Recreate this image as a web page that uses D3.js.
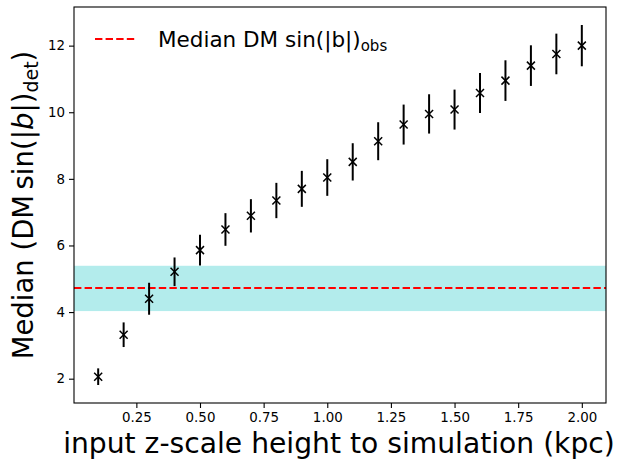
<!DOCTYPE html>
<html><head><meta charset="utf-8">
<script src="https://cdn.jsdelivr.net/npm/d3@7"></script>
<style>body{margin:0;background:#fff}svg{display:block}</style>
</head><body>
<script>
// ---- data ----
const zHeights = [0.1,0.2,0.3,0.4,0.5,0.6,0.7,0.8,0.9,1.0,1.1,1.2,1.3,1.4,1.5,1.6,1.7,1.8,1.9,2.0];
const medians  = [2.06,3.32,4.40,5.21,5.86,6.48,6.89,7.35,7.70,8.04,8.51,9.13,9.63,9.95,10.08,10.58,10.95,11.40,11.75,12.00];
const errors   = [0.25,0.37,0.48,0.43,0.46,0.49,0.50,0.53,0.54,0.55,0.56,0.57,0.60,0.59,0.60,0.60,0.61,0.61,0.61,0.62];
const obsMedian = 4.72;
const obsBand = [4.03, 5.39];
const xTicks = [0.25,0.50,0.75,1.00,1.25,1.50,1.75,2.00];
const yTicks = [2,4,6,8,10,12];
const xLabel = "input z-scale height to simulation (kpc)";
const legendLabel = "Median DM sin(|b|)";

const W = 617, H = 459;
const m = {left:74, right:606, top:7, bottom:403};
const font = "'DejaVu Sans', sans-serif";

const svg = d3.select("body").append("svg").attr("width", W).attr("height", H)
  .style("font-family", font);

const x = d3.scaleLinear().domain([0.005, 2.095]).range([m.left, m.right]);
const y = d3.scaleLinear().domain([1.27, 13.16]).range([m.bottom, m.top]);

// band
svg.append("rect")
  .attr("x", m.left).attr("width", m.right - m.left)
  .attr("y", y(obsBand[1])).attr("height", y(obsBand[0]) - y(obsBand[1]))
  .attr("fill", "#b3ecec");

// median line
svg.append("line")
  .attr("x1", m.left).attr("x2", m.right)
  .attr("y1", y(obsMedian)).attr("y2", y(obsMedian))
  .attr("stroke", "#ff0000").attr("stroke-width", 2)
  .attr("stroke-dasharray", "7.4,3.2");

// error bars
const pts = zHeights.map((z, i) => ({z, v: medians[i], e: errors[i]}));
svg.append("g").selectAll("line").data(pts).join("line")
  .attr("x1", d => x(d.z)).attr("x2", d => x(d.z))
  .attr("y1", d => y(d.v - d.e)).attr("y2", d => y(d.v + d.e))
  .attr("stroke", "#000").attr("stroke-width", 2);

// x markers
const s = 4;
svg.append("g").selectAll("path").data(pts).join("path")
  .attr("d", d => {
    const cx = x(d.z), cy = y(d.v);
    return `M${cx-s},${cy-s}L${cx+s},${cy+s}M${cx-s},${cy+s}L${cx+s},${cy-s}`;
  })
  .attr("stroke", "#000").attr("stroke-width", 1.5).attr("fill", "none");

// axes
const xAxis = d3.axisBottom(x).tickValues(xTicks).tickFormat(d3.format(".2f")).tickSize(5).tickPadding(4);
const yAxis = d3.axisLeft(y).tickValues(yTicks).tickFormat(d3.format("d")).tickSize(5).tickPadding(4);
const gx = svg.append("g").attr("transform", `translate(0,${m.bottom})`).call(xAxis);
const gy = svg.append("g").attr("transform", `translate(${m.left},0)`).call(yAxis);
[gx, gy].forEach(g => {
  g.select(".domain").remove();
  g.selectAll("text").attr("font-family", font).attr("font-size", 13.4).attr("fill", "#000");
  g.selectAll("line").attr("stroke", "#000").attr("stroke-width", 1.1);
});

// frame
svg.append("rect")
  .attr("x", m.left).attr("y", m.top)
  .attr("width", m.right - m.left).attr("height", m.bottom - m.top)
  .attr("fill", "none").attr("stroke", "#000").attr("stroke-width", 1.1);

// x label
svg.append("text")
  .attr("x", 339).attr("y", 453)
  .attr("text-anchor", "middle").attr("font-size", 28.2).attr("fill", "#000")
  .text(xLabel);

// y label
const yl = svg.append("text")
  .attr("transform", `translate(33,${(m.top + m.bottom) / 2}) rotate(-90)`)
  .attr("text-anchor", "middle").attr("font-size", 27.5).attr("fill", "#000");
yl.append("tspan").text("Median (DM\u2009sin(|");
yl.append("tspan").attr("font-style", "italic").text("b");
yl.append("tspan").text("|)");
yl.append("tspan").attr("font-size", 19).attr("dy", 5).text("det");
yl.append("tspan").attr("dy", -5).text(")");

// legend
const lg = svg.append("g");
lg.append("line").attr("x1", 95).attr("x2", 137).attr("y1", 39).attr("y2", 39)
  .attr("stroke", "#ff0000").attr("stroke-width", 2).attr("stroke-dasharray", "7.4,3.2");
const lt = lg.append("text").attr("x", 158).attr("y", 47)
  .attr("font-size", 21.5).attr("fill", "#000");
lt.append("tspan").text(legendLabel);
lt.append("tspan").attr("font-size", 15).attr("dy", 4).text("obs");
</script>
</body></html>
